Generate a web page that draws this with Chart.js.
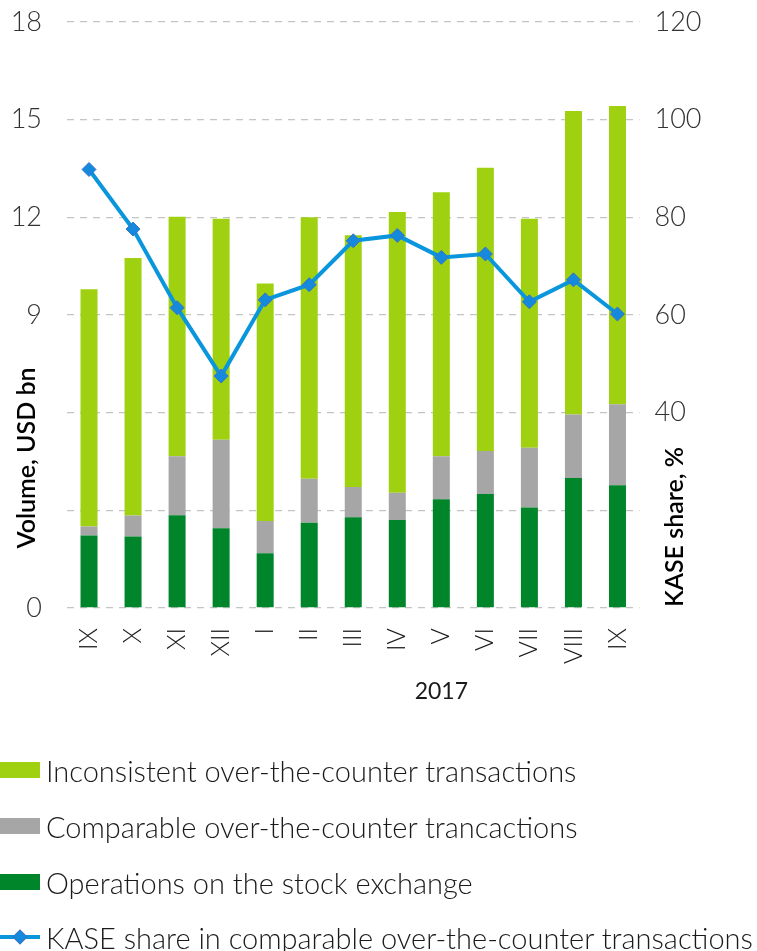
<!DOCTYPE html>
<html>
<head>
<meta charset="utf-8">
<script src="https://cdn.jsdelivr.net/npm/chart.js@4/dist/chart.umd.min.js"></script>
<style>
  html, body { margin: 0; padding: 0; background: #fff; }
  #wrap { position: relative; width: 757px; height: 951px; overflow: hidden; }
  #c { position: absolute; left: 0; top: 0; }
  .lg { position: absolute; left: 0; height: 34px; display: flex; align-items: center;
        font-family: Lato, "Open Sans", sans-serif; font-weight: 300; font-size: 29px; color: #1a1a1a; white-space: nowrap; }
  .sw { width: 40px; height: 16px; margin-right: 6px; flex: none; }
</style>
</head>
<body>
<div id="wrap">
  <canvas id="c" width="757" height="951"></canvas>
  <div id="legend"></div>
</div>
<script>
const categories = ["IX", "X", "XI", "XII", "I", "II", "III", "IV", "V", "VI", "VII", "VIII", "IX"];
const exchangeOps = [2.23, 2.20, 2.85, 2.45, 1.68, 2.62, 2.79, 2.70, 3.34, 3.50, 3.09, 3.99, 3.77];
const comparableOTC = [0.27, 0.64, 1.81, 2.72, 0.99, 1.35, 0.93, 0.84, 1.32, 1.32, 1.83, 1.95, 2.49];
const inconsistentOTC = [7.29, 7.91, 7.36, 6.79, 7.30, 8.03, 7.73, 8.62, 8.11, 8.70, 7.04, 9.33, 9.16];
const kaseShare = [89.8, 77.6, 61.5, 47.5, 63.1, 66.2, 75.2, 76.3, 71.8, 72.5, 62.7, 67.2, 60.2];
const leftTickLabels = {0: "0", 9: "9", 12: "12", 15: "15", 18: "18"};
const rightTickLabels = {40: "40", 60: "60", 80: "80", 100: "100", 120: "120"};
const yearLabel = "2017";
const leftTitle = "Volume, USD bn";
const rightTitle = "KASE share, %";
const seriesNames = [
  "Inconsistent over-the-counter transactions",
  "Comparable over-the-counter trancactions",
  "Operations on the stock exchange",
  "KASE share in comparable over-the-counter transactions"
];

const C_LIME = "#9fd110", C_GREY = "#a6a6a6", C_GREEN = "#00852a", C_LINE = "#0a96dc", C_MARK = "#1589dc";
const FONT = "Lato, 'Open Sans', sans-serif";

const extras = {
  id: "extras",
  afterDraw(chart) {
    const ctx = chart.ctx, x = chart.scales.x;
    ctx.save();
    ctx.fillStyle = "#1a1a1a";
    ctx.font = "400 23px " + FONT;
    ctx.textAlign = "center";
    ctx.textBaseline = "middle";
    const cx = (x.getPixelForValue(4) + x.getPixelForValue(12)) / 2;
    ctx.fillText(yearLabel, cx, 692);
    ctx.font = "600 25px " + FONT;
    ctx.fillStyle = "#000";
    ctx.translate(27, 458);
    ctx.rotate(-Math.PI / 2);
    ctx.fillText(leftTitle, 0, 0);
    ctx.restore();
    ctx.save();
    ctx.font = "600 25px " + FONT;
    ctx.fillStyle = "#000";
    ctx.textAlign = "center";
    ctx.textBaseline = "middle";
    ctx.translate(675, 527);
    ctx.rotate(-Math.PI / 2);
    ctx.fillText(rightTitle, 0, 0);
    ctx.restore();
  }
};

const barCommon = { categoryPercentage: 1, barPercentage: 0.386, borderWidth: 0, order: 1, yAxisID: "y" };

function noPad(s) { s.paddingTop = 0; s.paddingBottom = 0; s.paddingLeft = 0; s.paddingRight = 0; }

new Chart(document.getElementById("c"), {
  type: "bar",
  data: {
    labels: categories,
    datasets: [
      Object.assign({ label: seriesNames[2], data: exchangeOps, backgroundColor: C_GREEN }, barCommon),
      Object.assign({ label: seriesNames[1], data: comparableOTC, backgroundColor: C_GREY }, barCommon),
      Object.assign({ label: seriesNames[0], data: inconsistentOTC, backgroundColor: C_LIME }, barCommon),
      {
        type: "line", label: seriesNames[3], data: kaseShare, yAxisID: "y1", order: 0,
        borderColor: C_LINE, borderWidth: 4, tension: 0,
        pointStyle: "rectRot", pointRadius: 7, pointBackgroundColor: C_MARK,
        pointBorderColor: "#3a72c8", pointBorderWidth: 1
      }
    ]
  },
  options: {
    responsive: false,
    animation: false,
    layout: { padding: { top: 22, left: 0, right: 0, bottom: 0 } },
    plugins: { legend: { display: false }, tooltip: { enabled: false } },
    scales: {
      x: {
        stacked: true,
        grid: { display: false, drawTicks: false },
        border: { display: false },
        ticks: { minRotation: 90, maxRotation: 90, padding: 20, color: "#1a1a1a",
                 font: { family: FONT, size: 25, weight: 300 }, autoSkip: false },
        afterFit(s) { s.height = 951 - 608; noPad(s); }
      },
      y: {
        stacked: true, position: "left", min: 0, max: 18,
        afterBuildTicks(s) { s.ticks = [0, 3, 6, 9, 12, 15, 18].map(v => ({ value: v })); },
        grid: { color: "#c4c4c4", lineWidth: 1.3, drawTicks: false },
        border: { display: false, dash: [7, 6] },
        ticks: { padding: 25, color: "#333",
                 font: { family: FONT, size: 27, weight: 300 },
                 callback: v => (leftTickLabels[v] !== undefined ? leftTickLabels[v] : "") },
        afterFit(s) { s.width = 67; noPad(s); }
      },
      y1: {
        position: "right", min: 0, max: 120,
        afterBuildTicks(s) { s.ticks = [0, 20, 40, 60, 80, 100, 120].map(v => ({ value: v })); },
        grid: { display: false, drawTicks: false },
        border: { display: false },
        ticks: { padding: 15, color: "#333",
                 font: { family: FONT, size: 27, weight: 300 },
                 callback: v => (rightTickLabels[v] !== undefined ? rightTickLabels[v] : "") },
        afterFit(s) { s.width = 117.5; noPad(s); }
      }
    }
  },
  plugins: [extras]
});

// HTML legend
const legendDiv = document.getElementById("legend");
const legendItems = [
  { name: seriesNames[0], color: C_LIME, y: 770 },
  { name: seriesNames[1], color: C_GREY, y: 826 },
  { name: seriesNames[2], color: C_GREEN, y: 882 },
  { name: seriesNames[3], color: C_LINE, y: 937, line: true }
];
legendItems.forEach(it => {
  const d = document.createElement("div");
  d.className = "lg";
  d.style.top = (it.y - 17) + "px";
  let sw;
  if (it.line) {
    sw = '<svg class="sw" width="40" height="16" style="height:16px"><line x1="0" y1="8" x2="40" y2="8" stroke="' + C_LINE +
         '" stroke-width="4"/><rect x="15" y="3" width="10" height="10" fill="' + C_MARK +
         '" stroke="#3a72c8" stroke-width="1" transform="rotate(45 20 8)"/></svg>';
  } else {
    sw = '<span class="sw" style="background:' + it.color + '"></span>';
  }
  d.innerHTML = sw + '<span>' + it.name + '</span>';
  legendDiv.appendChild(d);
});
</script>
</body>
</html>
